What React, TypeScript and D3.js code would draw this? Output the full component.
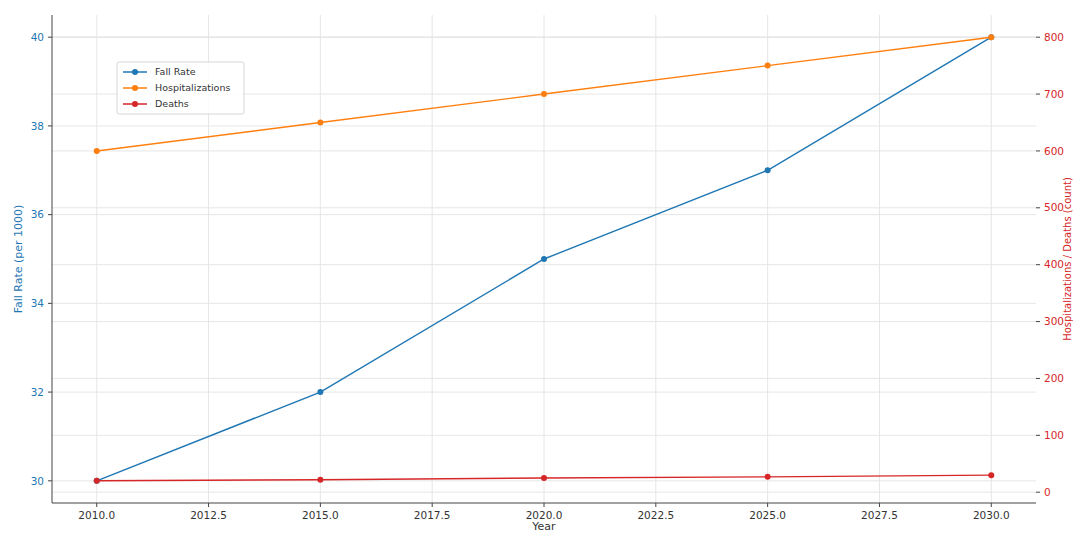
import React from 'react';
import * as d3 from 'd3';

const YEARS = [2010, 2015, 2020, 2025, 2030];
const FALL_RATE = [30, 32, 35, 37, 40];
const HOSPITALIZATIONS = [600, 650, 700, 750, 800];
const DEATHS = [20, 22, 25, 27, 30];

const X_TICKS = [2010, 2012.5, 2015, 2017.5, 2020, 2022.5, 2025, 2027.5, 2030];
const LEFT_TICKS = [30, 32, 34, 36, 38, 40];
const RIGHT_TICKS = [0, 100, 200, 300, 400, 500, 600, 700, 800];

const W = 1073;
const H = 534;
const PLOT = { left: 52, right: 1036, top: 15, bottom: 503 };

const BLUE = '#1f77b4';
const ORANGE = '#ff7f0e';
const RED = '#d62728';
const FONT = 'DejaVu Sans, sans-serif';

// matplotlib-style 5% margins
function padded(lo: number, hi: number): [number, number] {
  const m = (hi - lo) * 0.05;
  return [lo - m, hi + m];
}

export default function App() {
  const x = d3.scaleLinear().domain(padded(2010, 2030)).range([PLOT.left, PLOT.right]);
  const yL = d3.scaleLinear().domain(padded(30, 40)).range([PLOT.bottom, PLOT.top]);
  const rMin = Math.min(...DEATHS);
  const rMax = Math.max(...HOSPITALIZATIONS);
  const yR = d3.scaleLinear().domain(padded(rMin, rMax)).range([PLOT.bottom, PLOT.top]);

  const lineL = d3.line<number>().x((_, i) => x(YEARS[i])).y((d) => yL(d));
  const lineR = d3.line<number>().x((_, i) => x(YEARS[i])).y((d) => yR(d));

  const series = [
    { name: 'Fall Rate', values: FALL_RATE, color: BLUE, line: lineL, y: yL },
    { name: 'Hospitalizations', values: HOSPITALIZATIONS, color: ORANGE, line: lineR, y: yR },
    { name: 'Deaths', values: DEATHS, color: RED, line: lineR, y: yR },
  ];

  const midY = (PLOT.top + PLOT.bottom) / 2;

  return (
    <svg
      width={W}
      height={H}
      style={{ position: 'absolute', left: 0, top: 0, background: '#fff' }}
      fontFamily={FONT}
    >
      {/* Grid */}
      <g stroke="#e3e3e3" strokeWidth={0.9}>
        {X_TICKS.map((t) => (
          <line key={'gx' + t} x1={x(t)} x2={x(t)} y1={PLOT.top} y2={PLOT.bottom} />
        ))}
        {LEFT_TICKS.map((t) => (
          <line key={'gl' + t} x1={PLOT.left} x2={PLOT.right} y1={yL(t)} y2={yL(t)} />
        ))}
        {RIGHT_TICKS.map((t) => (
          <line key={'gr' + t} x1={PLOT.left} x2={PLOT.right} y1={yR(t)} y2={yR(t)} />
        ))}
      </g>

      {/* Series */}
      {series.map((s) => (
        <g key={s.name}>
          <path d={s.line(s.values) ?? ''} fill="none" stroke={s.color} strokeWidth={1.4} />
          {s.values.map((v, i) => (
            <circle key={i} cx={x(YEARS[i])} cy={s.y(v)} r={3} fill={s.color} />
          ))}
        </g>
      ))}

      {/* Spines */}
      <line x1={PLOT.left} x2={PLOT.left} y1={PLOT.top} y2={PLOT.bottom} stroke="#444" strokeWidth={1} />
      <line x1={PLOT.left} x2={PLOT.right} y1={PLOT.bottom} y2={PLOT.bottom} stroke="#444" strokeWidth={1} />

      {/* X axis */}
      {X_TICKS.map((t) => (
        <g key={'xt' + t} transform={`translate(${x(t)},${PLOT.bottom})`}>
          <line y2={4} stroke="#444" />
          <text y={16} textAnchor="middle" fontSize={10.5} fill="#333">
            {t.toFixed(1)}
          </text>
        </g>
      ))}
      <text x={(PLOT.left + PLOT.right) / 2} y={530} textAnchor="middle" fontSize={11} fill="#333">
        Year
      </text>

      {/* Left axis */}
      {LEFT_TICKS.map((t) => (
        <g key={'lt' + t} transform={`translate(${PLOT.left},${yL(t)})`}>
          <line x2={-4} stroke="#444" />
          <text x={-8} dy="0.35em" textAnchor="end" fontSize={10.5} fill={BLUE}>
            {t}
          </text>
        </g>
      ))}
      <text
        transform={`translate(22,${midY}) rotate(-90)`}
        textAnchor="middle"
        fontSize={11}
        fill={BLUE}
      >
        Fall Rate (per 1000)
      </text>

      {/* Right axis */}
      {RIGHT_TICKS.map((t) => (
        <g key={'rt' + t} transform={`translate(${PLOT.right},${yR(t)})`}>
          <line x2={4} stroke="#444" />
          <text x={8} dy="0.35em" textAnchor="start" fontSize={10.5} fill={RED}>
            {t}
          </text>
        </g>
      ))}
      <text
        transform={`translate(1071,${midY}) rotate(-90)`}
        textAnchor="middle"
        fontSize={10}
        fill={RED}
      >
        Hospitalizations / Deaths (count)
      </text>

      {/* Legend */}
      <g transform="translate(117,62)">
        <rect width={127} height={52} rx={2} fill="#fff" fillOpacity={0.85} stroke="#d6d6d6" />
        {series.map((s, i) => (
          <g key={s.name} transform={`translate(6,${10 + i * 16})`}>
            <line x1={0} x2={24} stroke={s.color} strokeWidth={1.5} />
            <circle cx={12} r={3} fill={s.color} />
            <text x={32} dy="0.35em" fontSize={9.5} fill="#333">
              {s.name}
            </text>
          </g>
        ))}
      </g>
    </svg>
  );
}
